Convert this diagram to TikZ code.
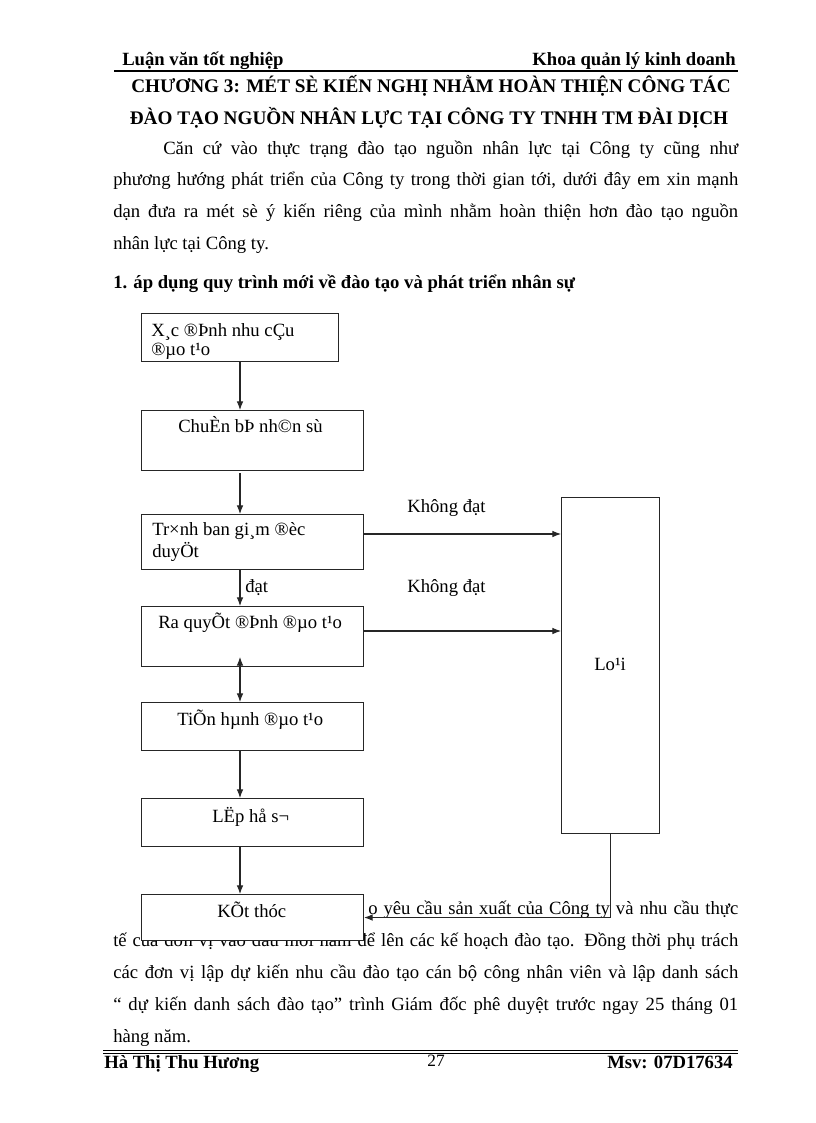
\documentclass[tikz,border=0pt]{standalone}
\usepackage{fontspec}
\setmainfont{Liberation Serif}
\usetikzlibrary{arrows.meta}
\newcommand{\bodyfont}{\fontsize{14}{16}\selectfont}
\newcommand{\jline}[2]{\makebox[#1][s]{#2}}
\begin{document}
\begin{tikzpicture}[x=0.75pt,y=-0.75pt,
  txt/.style={anchor=base west,inner sep=0pt,font=\bodyfont},
  txtb/.style={anchor=base west,inner sep=0pt,font=\bodyfont\bfseries},
  box/.style={draw=black!85,line width=0.8pt,fill=white,inner sep=0pt},
  arr/.style={-{Latex[length=6.5pt,width=5pt]},draw=black!85,line width=0.8pt},
  darr/.style={{Latex[length=6.5pt,width=5pt]}-{Latex[length=6.5pt,width=5pt]},draw=black!85,line width=0.8pt}]
\useasboundingbox[fill=white] (0,0) rectangle (816,1123);
% header
\node[txtb] (h1) at (122,66) {Luận văn tốt nghiệp};
\node[txtb,anchor=base east] (h2) at (736,66) {Khoa quản lý kinh doanh};
\draw[line width=1.6pt] (114,71) -- (738,71);
% title
\node[txtb,anchor=base,font=\fontsize{14.4}{16}\selectfont\bfseries] (t1) at (431,93) {CHƯƠNG 3: MÉT SÈ KIẾN NGHỊ NHẰM HOÀN THIỆN CÔNG TÁC};
\node[txtb,anchor=base,font=\fontsize{14.4}{16}\selectfont\bfseries] (t2) at (429,125) {ĐÀO TẠO NGUỒN NHÂN LỰC TẠI CÔNG TY TNHH TM ĐÀI DỊCH};
% paragraph
\node[txt] (p1) at (163,155) {\jline{431.25pt}{Căn cứ vào thực trạng đào tạo nguồn nhân lực tại Công ty cũng như}};
\node[txt] (p2) at (113,186) {\jline{468.75pt}{phương hướng phát triển của Công ty trong thời gian tới, dưới đây em xin mạnh}};
\node[txt] (p3) at (113,218) {\jline{468.75pt}{dạn đưa ra mét sè ý kiến riêng của mình nhằm hoàn thiện hơn đào tạo nguồn}};
\node[txt] (p4) at (113,249) {nhân lực tại Công ty.};
\node[txtb] (sec) at (113,288) {1. áp dụng quy trình mới về đào tạo và phát triển nhân sự};
% bottom paragraph (partly covered by the last box)
\node[txt] (q1) at (368,914) {\jline{277.5pt}{o yêu cầu sản xuất của Công ty và nhu cầu thực}};
\node[txt] (q2) at (113,946) {\jline{468.75pt}{tế của đơn vị vào đầu mỗi năm để lên các kế hoạch đào tạo. Đồng thời phụ trách}};
\node[txt] (q3) at (113,978) {\jline{468.75pt}{các đơn vị lập dự kiến nhu cầu đào tạo cán bộ công nhân viên và lập danh sách}};
\node[txt] (q4) at (113,1010) {\jline{468.75pt}{“ dự kiến danh sách đào tạo” trình Giám đốc phê duyệt trước ngay 25 tháng 01}};
\node[txt] (q5) at (113,1042) {hàng năm.};
% footer
\draw[line width=0.8pt] (103,1050.5) -- (738,1050.5);
\draw[line width=0.8pt] (103,1053.5) -- (738,1053.5);
\node[txtb] (f1) at (104,1068) {Hà Thị Thu Hương};
\node[txt,anchor=base,font=\fontsize{13}{15}\selectfont] (f2) at (436,1066) {27};
\node[txtb,anchor=base east] (f3) at (733,1068) {Msv: 07D17634};
% flowchart boxes
\node[box,anchor=north west,minimum width=147.75pt,minimum height=36pt] (b1) at (141,313) {};
\node[box,anchor=north west,minimum width=166.5pt,minimum height=45pt] (b2) at (141,410) {};
\node[box,anchor=north west,minimum width=166.5pt,minimum height=41.25pt] (b3) at (141,514) {};
\node[box,anchor=north west,minimum width=166.5pt,minimum height=45pt] (b4) at (141,606) {};
\node[box,anchor=north west,minimum width=166.5pt,minimum height=36pt] (b5) at (141,702) {};
\node[box,anchor=north west,minimum width=166.5pt,minimum height=36pt] (b6) at (141,798) {};
\node[box,anchor=north west,minimum width=166.5pt,minimum height=34.5pt] (b7) at (141,894) {};
\node[box,anchor=north west,minimum width=73.5pt,minimum height=252pt] (L) at (561,497) {};
% box texts
\node[txt] (b1a) at (151,336) {X¸c ®Þnh nhu cÇu};
\node[txt] (b1b) at (151,355) {®µo t¹o};
\node[txt] (b2a) at (178,432) {ChuÈn bÞ nh©n sù};
\node[txt] (b3a) at (152,535) {Tr×nh ban gi¸m ®èc};
\node[txt] (b3b) at (152,557) {duyÖt};
\node[txt] (b4a) at (158,628) {Ra quyÕt ®Þnh ®µo t¹o};
\node[txt] (b5a) at (177,725) {TiÕn hµnh ®µo t¹o};
\node[txt] (b6a) at (212,822) {LËp hå s¬};
\node[txt] (b7a) at (217,917) {KÕt thóc};
\node[txt] (La) at (594,670) {Lo¹i};
% labels
\node[txt] (k1) at (407,512) {Không đạt};
\node[txt] (k2) at (407,592) {Không đạt};
\node[txt] (d1) at (245,592) {đạt};
% connectors
\coordinate (cx) at (240,0);
\coordinate (y1) at (0,534);
\coordinate (y2) at (0,631);
\coordinate (y3) at (0,473);
\coordinate (y4) at (0,657);
\draw[arr] (b1.south -| cx) -- (b2.north -| cx);
\draw[arr] (cx |- y3) -- (b3.north -| cx);
\draw[arr] (b3.south -| cx) -- (b4.north -| cx);
\draw[darr] (cx |- y4) -- (b5.north -| cx);
\draw[arr] (b5.south -| cx) -- (b6.north -| cx);
\draw[arr] (b6.south -| cx) -- (b7.north -| cx);
\draw[arr] (b3.east |- y1) -- (L.west |- y1);
\draw[arr] (b4.east |- y2) -- (L.west |- y2);
\draw[arr] (L.south) |- (b7.east);
\end{tikzpicture}
\end{document}
